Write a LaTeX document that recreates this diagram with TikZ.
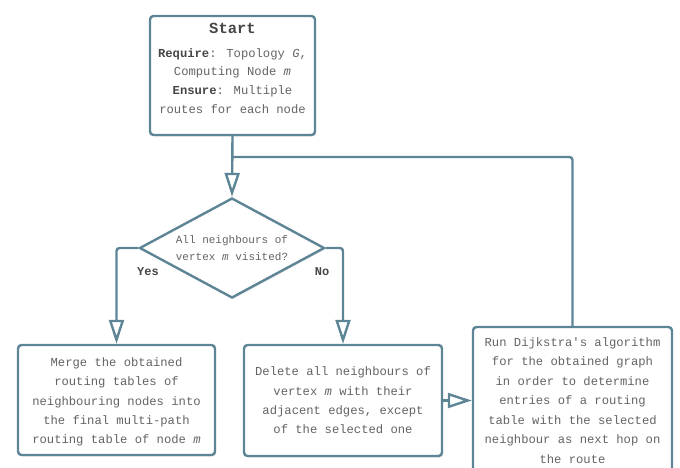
\documentclass[tikz,border=0pt]{standalone}
\usepackage{fontspec}
\setmainfont{Liberation Mono}
\setmonofont{Liberation Mono}
\usetikzlibrary{shapes.geometric,arrows.meta,shadows}
\definecolor{edge}{RGB}{94,133,150}
\definecolor{txt}{RGB}{100,100,100}
\definecolor{btxt}{RGB}{70,70,70}
\tikzset{
  box/.style={draw=edge, line width=2.4pt, rounded corners=3.5pt, fill=white,
    text=txt, align=center, font=\fontsize{12.2}{19.3}\selectfont, inner sep=0pt,
    drop shadow={opacity=0.2, shadow xshift=1pt, shadow yshift=-1.5pt}},
  plain/.style={text=txt, align=center, inner sep=0pt},
  dec/.style={draw=edge, line width=2.4pt, diamond, fill=white, text=txt, align=center,
    font=\fontsize{11}{17}\selectfont, inner sep=0pt, aspect=1.85,
    drop shadow={opacity=0.2, shadow xshift=1pt, shadow yshift=-1.5pt}},
  conn/.style={draw=edge, line width=2.4pt, rounded corners=3pt},
  arr/.style={conn, -{Triangle[open, width=15pt, length=24pt, line width=2.4pt]}},
  lbl/.style={text=btxt, font=\fontsize{12}{14}\selectfont\bfseries}
}
\begin{document}
\begin{tikzpicture}[x=1pt,y=-1pt]
\clip (0,0) rectangle (680,467);
\node[box, minimum width=165pt, minimum height=119pt] (start) at (232.5,75.5) {};
\node[plain, font=\fontsize{15.5}{19}\selectfont\bfseries, text=btxt] (title) at (232.5,28) {Start};
\node[plain, font=\fontsize{12.2}{18.7}\selectfont] (req) at (232.5,81)
  {{\color{btxt}\bfseries Require}: Topology \textit{G},\\
   Computing Node \textit{m}\\
   {\color{btxt}\bfseries Ensure}: Multiple\\
   routes for each node};
\node[dec, minimum width=185pt, minimum height=100pt] (q) at (232,248)
  {All neighbours of\\vertex \textit{m} visited?};
\node[box, minimum width=197pt, minimum height=110pt] (merge) at (116.5,400) {};
\node[plain, font=\fontsize{12.2}{19.3}\selectfont] (mtext) at (116.5,402)
  {Merge the obtained\\routing tables of\\neighbouring nodes into\\the final multi-path\\routing table of node \textit{m}};
\node[box, minimum width=198pt, minimum height=111pt] (del) at (343,400.5)
  {Delete all neighbours of\\vertex \textit{m} with their\\adjacent edges, except\\of the selected one};
\node[box, minimum width=199pt, minimum height=153pt] (dijk) at (572.5,403.5) {};
\node[plain, font=\fontsize{12.2}{19.5}\selectfont] (dtext) at (572.5,400.5)
  {Run Dijkstra\textquotesingle s algorithm\\for the obtained graph\\in order to determine\\entries of a routing\\table with the selected\\neighbour as next hop on\\the route};
\coordinate (j) at (232,157);
\node[lbl] (yes) at (148,272) {Yes};
\node[lbl] (no) at (322,272) {No};
\draw[arr] (start.south) -- (q.north);
\draw[conn] (dijk.north) |- (j);
\draw[arr] (q.west) -| (merge.north);
\draw[arr] (q.east) -| (del.north);
\draw[arr] (del.east) -- (del.east -| dijk.west);
\end{tikzpicture}
\end{document}
